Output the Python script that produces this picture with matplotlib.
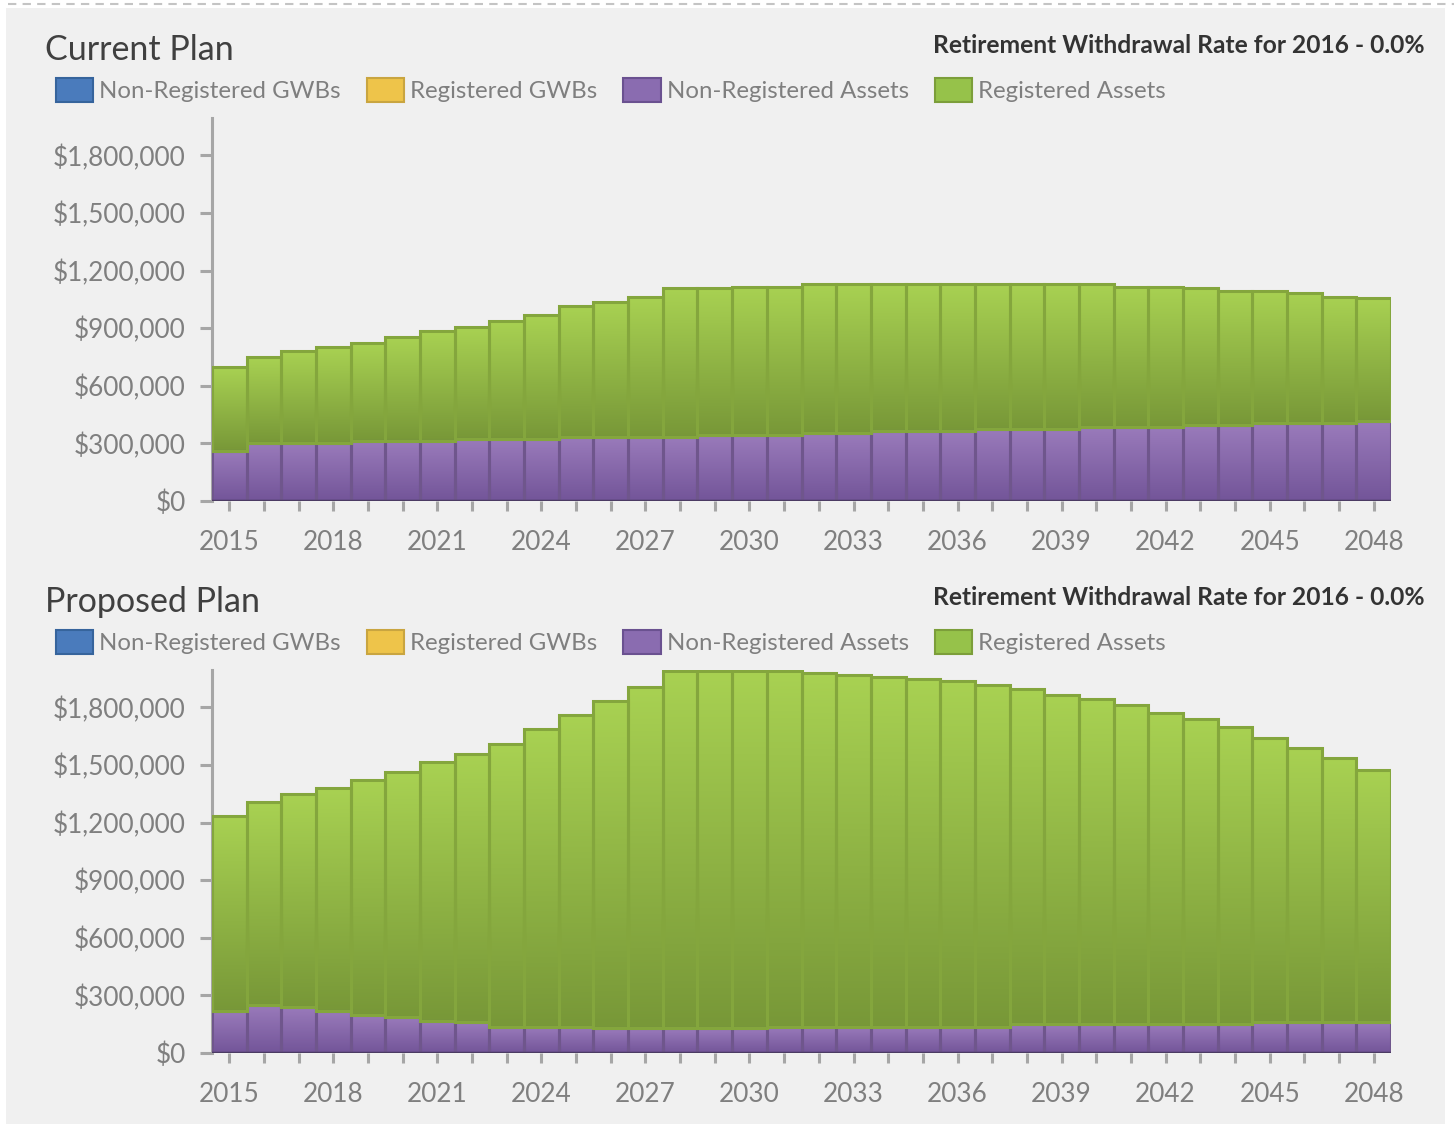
import matplotlib
matplotlib.use("Agg")
import matplotlib.pyplot as plt
import numpy as np
from matplotlib.colors import LinearSegmentedColormap
from matplotlib.patches import Rectangle, Patch
from matplotlib.lines import Line2D
from matplotlib.ticker import FuncFormatter

plt.rcParams["font.family"] = ["Lato", "DejaVu Sans"]

years = list(range(2015, 2049))

# values in thousands of dollars
current_nonreg = [262, 303, 303, 303, 314, 314, 314, 324, 324, 324, 334, 334, 334, 334,
                  345, 345, 345, 355, 355, 365, 365, 365, 376, 376, 376, 386, 386, 386,
                  397, 397, 407, 407, 407, 417]
current_total = [698, 750, 783, 802, 822, 853, 884, 905, 936, 967, 1014, 1034, 1065, 1107,
                 1107, 1117, 1117, 1128, 1128, 1128, 1128, 1128, 1128, 1128, 1128, 1128,
                 1117, 1117, 1107, 1096, 1096, 1086, 1065, 1055]
proposed_nonreg = [221, 252, 242, 221, 200, 190, 169, 159, 138, 138, 138, 128, 128, 128,
                   128, 128, 138, 138, 138, 138, 138, 138, 138, 149, 149, 149, 149, 149,
                   149, 149, 159, 159, 159, 159]
proposed_total = [1237, 1309, 1350, 1382, 1423, 1464, 1516, 1558, 1610, 1687, 1760, 1832,
                  1905, 1990, 1990, 1990, 1990, 1977, 1967, 1957, 1946, 1936, 1915, 1894,
                  1863, 1843, 1812, 1770, 1739, 1698, 1641, 1589, 1537, 1475]

legend_labels = ["Non-Registered GWBs", "Registered GWBs", "Non-Registered Assets", "Registered Assets"]
yticks = [0, 300000, 600000, 900000, 1200000, 1500000, 1800000]
rate_text = "Retirement Withdrawal Rate for 2016 - 0.0%"

GREEN_TOP, GREEN_BOT, GREEN_EDGE = "#a8d152", "#789838", "#84a63d"
PURP_TOP, PURP_BOT, PURP_EDGE = "#9a7bbb", "#735599", "#6f568c"
LEG_COLORS = [("#4a7bbc", "#36649c"), ("#eec44a", "#c9a540"),
              ("#8a6cb0", "#6a5190"), ("#96c24a", "#7c9e3a")]
TICK_GRAY = "#a6a6a6"
LABEL_GRAY = "#7f7f7f"

FIG_W, FIG_H = 1454, 1126


def gradient_bars(ax, x, heights, bottoms, top, bot, edge):
    cmap = LinearSegmentedColormap.from_list("g", [bot, top])
    grad = np.linspace(0, 1, 64).reshape(-1, 1)
    bars = ax.bar(x, heights, width=1.0, bottom=bottoms, facecolor="none",
                  edgecolor=edge, linewidth=2.2, zorder=3)
    for r in bars:
        x0, y0 = r.get_x(), r.get_y()
        im = ax.imshow(grad, extent=[x0, x0 + r.get_width(), y0, y0 + r.get_height()],
                       origin="lower", cmap=cmap, aspect="auto", zorder=2,
                       interpolation="bilinear")
        im.set_clip_path(r)
    return bars


def draw_panel(ax, title, nonreg, total):
    nonreg_d = np.array(nonreg) * 1000.0
    reg_d = np.array(total) * 1000.0 - nonreg_d
    gradient_bars(ax, years, nonreg_d, 0, PURP_TOP, PURP_BOT, PURP_EDGE)
    gradient_bars(ax, years, reg_d, nonreg_d, GREEN_TOP, GREEN_BOT, GREEN_EDGE)
    ax.axhline(0, color="#4b3b63", lw=2.5, zorder=4)

    ax.set_xlim(years[0] - 0.5, years[-1] + 0.5)
    ax.set_ylim(0, 1995000)
    ax.set_facecolor("none")
    for s in ["top", "right", "bottom"]:
        ax.spines[s].set_visible(False)
    ax.spines["left"].set_color(TICK_GRAY)
    ax.spines["left"].set_linewidth(2.2)

    ax.set_yticks(yticks)
    ax.yaxis.set_major_formatter(FuncFormatter(lambda v, p: f"${v:,.0f}"))
    ax.set_xticks(years)
    ax.set_xticklabels([str(y) if (y - years[0]) % 3 == 0 else "" for y in years])
    ax.tick_params(axis="y", length=9, width=2.2, color=TICK_GRAY, labelcolor=LABEL_GRAY,
                   labelsize=18.8, pad=10)
    ax.tick_params(axis="x", length=7, width=2.2, color=TICK_GRAY, labelcolor=LABEL_GRAY,
                   labelsize=18.8, pad=14)

    ax.text(-0.1416, 1.1775, title, transform=ax.transAxes, ha="left", va="center",
            fontsize=24.5, color="#404040")
    ax.text(1.0289, 1.188, rate_text, transform=ax.transAxes, ha="right", va="center",
            fontsize=17.7, fontweight="bold", color="#333333")

    handles = [Patch(facecolor=f, edgecolor=e, linewidth=1.5) for f, e in LEG_COLORS]
    leg = ax.legend(handles, legend_labels, ncol=4, loc="center left",
                    bbox_to_anchor=(-0.1323, 1.0731), frameon=False, fontsize=17.3,
                    borderaxespad=0, borderpad=0, handlelength=1.55, handleheight=1.2,
                    handletextpad=0.25, columnspacing=1.08)
    for t in leg.get_texts():
        t.set_color(LABEL_GRAY)


fig = plt.figure(figsize=(FIG_W / 100, FIG_H / 100), dpi=100, facecolor="white")
fig.patches.append(Rectangle((6 / FIG_W, 1 - 1124 / FIG_H), (1445 - 6) / FIG_W, (1124 - 8) / FIG_H,
                             transform=fig.transFigure, facecolor="#f0f0f0", edgecolor="none",
                             zorder=-5))
fig.lines.append(Line2D([8 / FIG_W, 1], [1 - 4 / FIG_H] * 2, transform=fig.transFigure,
                        color="#c4c4c4", lw=1.5, linestyle=(0, (4, 3)), zorder=-4))

left, width = 212 / FIG_W, (1391 - 212) / FIG_W
height = 383 / FIG_H
ax1 = fig.add_axes([left, 1 - 501 / FIG_H, width, height])
ax2 = fig.add_axes([left, 1 - 1053 / FIG_H, width, height])

draw_panel(ax1, "Current Plan", current_nonreg, current_total)
draw_panel(ax2, "Proposed Plan", proposed_nonreg, proposed_total)

fig.savefig("out.png", dpi=100, facecolor="white")
plt.close(fig)
